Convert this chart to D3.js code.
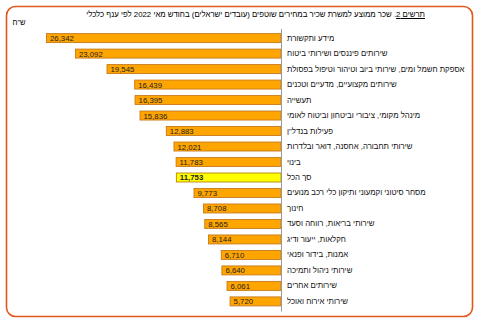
<!DOCTYPE html>
<html><head><meta charset="utf-8">
<script src="https://cdn.jsdelivr.net/npm/d3@7"></script>
<style>
html,body{margin:0;padding:0;background:#fff;}
#wrap{position:relative;width:480px;height:325px;}
svg{display:block;font-family:"Liberation Sans",Arial,"DejaVu Sans",sans-serif;}
#title{position:absolute;top:10px;right:55px;direction:rtl;white-space:nowrap;
  font-family:"Liberation Sans",Arial,"DejaVu Sans",sans-serif;font-size:7.8px;color:#000;line-height:10px;}
</style></head>
<body>
<div id="wrap">
<svg id="c" width="480" height="325"></svg>
<div id="title"></div>
</div>
<script>
const categories = [
  "מידע ותקשורת",
  "שירותים פיננסים ושירותי ביטוח",
  "אספקת חשמל ומים, שירותי ביוב וטיהור וטיפול בפסולת",
  "שירותים מקצועיים, מדעיים וטכנים",
  "תעשייה",
  "מינהל מקומי, ציבורי וביטחון וביטוח לאומי",
  "פעילות בנדל\"ן",
  "שירותי תחבורה, אחסנה, דואר ובלדרות",
  "בינוי",
  "סך הכל",
  "מסחר סיטוני וקמעוני ותיקון כלי רכב מנועים",
  "חינוך",
  "שירותי בריאות, רווחה וסעד",
  "חקלאות, ייעור ודיג",
  "אמנות, בידור ופנאי",
  "שירותי ניהול ותמיכה",
  "שירותים אחרים",
  "שירותי אירוח ואוכל"
];
const values = [26342, 23092, 19545, 16439, 16395, 15836, 12883, 12021, 11783, 11753, 9773, 8708, 8565, 8144, 6710, 6640, 6061, 5720];
const totalCategory = "סך הכל";
const unitLabel = "ש\"ח";
const titleLead = "תרשים 2";
const titleRest = ". שכר ממוצע למשרת שכיר במחירים שוטפים (עובדים ישראלים) בחודש מאי  2022 לפי ענף כלכלי";

const data = categories.map((c,i)=>({c, v: values[i]}));
const svg = d3.select("#c");

// frame
svg.append("rect").attr("x",6.5).attr("y",6.5).attr("width",466).attr("height",310)
  .attr("rx",9).attr("fill","#fff").attr("stroke","#E0581E").attr("stroke-width",1.6);

// title (HTML for correct bidi)
const title = d3.select("#title");
title.append("u").text(titleLead);
title.append("span").text(titleRest);

svg.append("text").attr("x",19).attr("y",25).attr("font-size",7.5).attr("fill","#000")
  .attr("text-anchor","middle").text(unitLabel);

const axisX = 281;
const x = d3.scaleLinear().domain([0, d3.max(values)]).range([axisX, 46.5]);
const y = d3.scaleBand().domain(categories).range([28.5, 311]).paddingInner(0.42).paddingOuter(0.33);

const g = svg.append("g");
g.selectAll("rect.bar").data(data).join("rect").attr("class","bar")
  .attr("x", d=>x(d.v)).attr("y", d=>y(d.c))
  .attr("width", d=>axisX - x(d.v)).attr("height", y.bandwidth())
  .attr("fill", d=>d.c===totalCategory ? "#FFFF00" : "#FFA500")
  .attr("stroke", d=>d.c===totalCategory ? "#B8860B" : "#C97A1A")
  .attr("stroke-width",0.9);

g.selectAll("text.val").data(data).join("text").attr("class","val")
  .attr("x", d=>x(d.v)+3.5).attr("y", d=>y(d.c)+y.bandwidth()/2+3)
  .attr("font-size",7.8).attr("fill","#222")
  .attr("font-weight", d=>d.c===totalCategory ? "bold":"normal")
  .text(d=>d3.format(",")(d.v));

const ax = svg.append("g").attr("transform",`translate(${axisX},0)`)
  .call(d3.axisRight(y).tickSize(0).tickPadding(6));
ax.select(".domain").attr("stroke","#999").attr("stroke-width",1);
ax.selectAll(".tick text").attr("font-size",7.8).attr("fill","#111")
  .attr("direction","rtl").attr("text-anchor","end")
  .attr("font-family","\"Liberation Sans\",Arial,\"DejaVu Sans\",sans-serif");
</script>
</body></html>
